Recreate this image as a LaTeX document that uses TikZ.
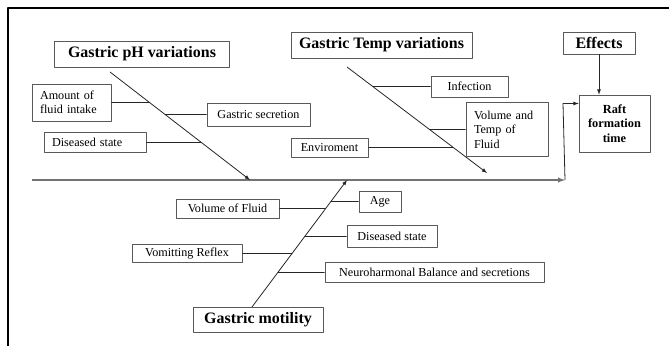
\documentclass[tikz,border=0pt]{standalone}
\usepackage{fontspec}
\setmainfont{Liberation Serif}
\begin{document}
\begin{tikzpicture}[>=latex,line join=bevel,
  cause/.style={draw=black!65,line width=0.7pt,inner sep=2pt,font=\fontsize{12.2}{14.5}\selectfont},
  head/.style={draw=black!65,line width=0.7pt,inner sep=2pt,font=\bfseries\fontsize{16}{18}\selectfont},
  bone/.style={black!85,line width=0.8pt},
  spine/.style={black!55,line width=1.4pt},
]
%%
\useasboundingbox (0bp,0bp) rectangle (669bp,346bp);
\draw [line width=2bp] (8bp,0bp) -- (8bp,338bp) -- (669bp,338bp);
%
\node (ph_head) at (142bp,292bp) [head,minimum width=175bp,minimum height=26bp] {Gastric pH variations};
  \node (temp_head) at (381.5bp,301bp) [head,minimum width=181bp,minimum height=26bp] {Gastric Temp variations};
  \node (effects) at (599bp,303bp) [head,minimum width=72bp,minimum height=22bp] {Effects};
  \node (raft) at (614.5bp,222.5bp) [draw=black!65,line width=0.7pt,minimum width=71bp,minimum height=57bp,align=center,font=\bfseries\fontsize{12.4}{14.5}\selectfont] {Raft\\formation\\time};
  \node (motility) at (258bp,26.5bp) [head,minimum width=130bp,minimum height=25bp] {Gastric motility};
%
\node (amount) at (71.5bp,243.5bp) [cause,inner xsep=8bp,minimum height=37bp,text width=63bp,align=left] {Amount of\\fluid intake};
  \node (gsec) at (258.5bp,231.5bp) [cause,minimum width=103bp,minimum height=23bp] {Gastric secretion};
  \node (dis_a) at (95bp,203.5bp) [cause,inner xsep=8bp,minimum height=20bp,text width=86bp,align=left] {Diseased state};
  \node (infection) at (469.5bp,259.5bp) [cause,minimum width=77bp,minimum height=21bp] {Infection};
  \node (voltemp) at (507bp,216.5bp) [cause,inner xsep=8bp,minimum height=54bp,text width=66bp,align=left] {Volume and\\Temp of\\Fluid};
  \node (envir) at (329.5bp,198.5bp) [cause,minimum width=77bp,minimum height=19bp] {Enviroment};
  \node (volfluid) at (227.5bp,137.5bp) [cause,minimum width=103bp,minimum height=19bp] {Volume of Fluid};
  \node (age) at (380bp,144.5bp) [cause,minimum width=42bp,minimum height=21bp] {Age};
  \node (dis_b) at (392bp,109.5bp) [cause,minimum width=90bp,minimum height=22bp] {Diseased state};
  \node (vomit) at (187bp,92.5bp) [cause,minimum width=110bp,minimum height=18bp] {Vomitting Reflex};
  \node (neuro) at (434.5bp,73.5bp) [cause,minimum width=219bp,minimum height=20bp] {Neuroharmonal Balance and secretions};
%
\coordinate (spine_l) at (32bp,166bp);
  \coordinate (spine_r) at (565bp,166bp);
  \coordinate (bend) at (563bp,242.5bp);
  \coordinate (ph_top) at (110bp,274bp);
  \coordinate (ph_end) at (250bp,166bp);
  \coordinate (temp_top) at (347bp,279bp);
  \coordinate (temp_end) at (487bp,173bp);
  \coordinate (mot_bot) at (252bp,39bp);
  \coordinate (mot_end) at (347bp,166bp);
%
\draw [spine,->] (spine_l) -- (spine_r);
  \draw [bone,->] (spine_r) -- (bend) -- (bend -| raft.west);
  \draw [bone,->] (effects.south) -- (effects.south |- raft.north);
  \draw [bone,->] (ph_top) -- (ph_end);
  \draw [bone,->] (temp_top) -- (temp_end);
  \draw [bone,->] (mot_bot) -- (mot_end);
%
\draw [bone] (amount.east) -- (intersection of ph_top--ph_end and amount.west--amount.east);
  \draw [bone] (gsec.west) -- (intersection of ph_top--ph_end and gsec.west--gsec.east);
  \draw [bone] (dis_a.east) -- (intersection of ph_top--ph_end and dis_a.west--dis_a.east);
  \draw [bone] (infection.west) -- (intersection of temp_top--temp_end and infection.west--infection.east);
  \draw [bone] (voltemp.west) -- (intersection of temp_top--temp_end and voltemp.west--voltemp.east);
  \draw [bone] (envir.east) -- (intersection of temp_top--temp_end and envir.west--envir.east);
  \draw [bone] (volfluid.east) -- (intersection of mot_bot--mot_end and volfluid.west--volfluid.east);
  \draw [bone] (age.west) -- (intersection of mot_bot--mot_end and age.west--age.east);
  \draw [bone] (dis_b.west) -- (intersection of mot_bot--mot_end and dis_b.west--dis_b.east);
  \draw [bone] (vomit.east) -- (intersection of mot_bot--mot_end and vomit.west--vomit.east);
  \draw [bone] (neuro.west) -- (intersection of mot_bot--mot_end and neuro.west--neuro.east);
%
\end{tikzpicture}
\end{document}
